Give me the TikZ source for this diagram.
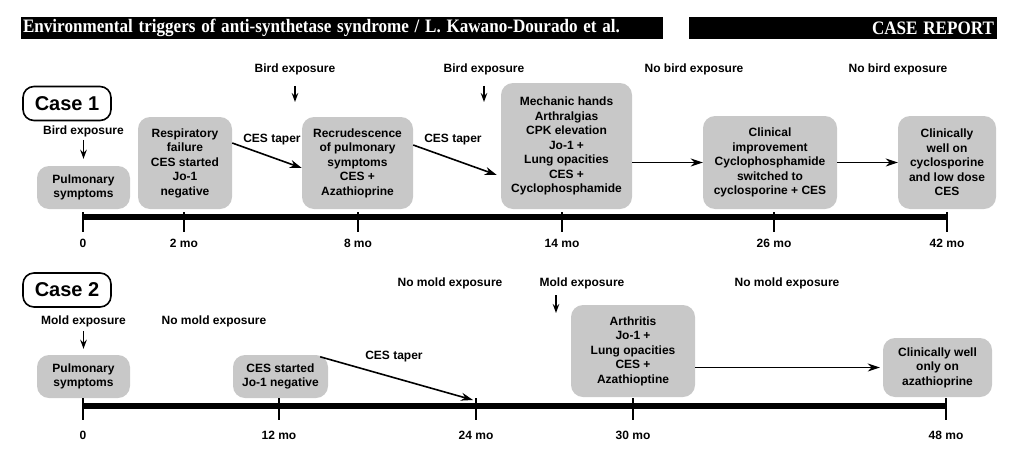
\documentclass[tikz,border=0pt]{standalone}
\usepackage{fontspec}
\setmainfont{Liberation Sans}
\newfontfamily\headfont{Liberation Serif}
\usetikzlibrary{arrows.meta}
\definecolor{boxgray}{RGB}{200,200,200}
\tikzstyle{sblock}   = [fill=boxgray,rounded corners=12pt,align=center,inner sep=0pt,font=\bfseries\fontsize{12}{14.5}\selectfont]
\tikzstyle{cblock}   = [draw,fill=white,line width=1.6pt,rounded corners=11pt,minimum width=88pt,minimum height=34pt,inner sep=0pt,font=\bfseries\fontsize{20}{24}\selectfont]
\tikzstyle{lbl}      = [inner sep=0pt,font=\bfseries\fontsize{12}{14.5}\selectfont]
\tikzstyle{hbar}     = [fill=black,text=white,minimum height=22pt,inner sep=0pt,font=\headfont\bfseries\fontsize{19}{22}\selectfont]
\tikzstyle{arr}      = [line width=1.6pt,-{Stealth[length=12pt,width=8pt]}]
\tikzstyle{darr}     = [line width=1.4pt,-{Stealth[length=9pt,width=6.5pt]}]
\tikzstyle{tline}    = [line width=6pt]
\tikzstyle{tickline} = [line width=2pt]
\begin{document}
\begin{tikzpicture}[x=1pt,y=-1pt]
			\useasboundingbox (0,0) rectangle (1024,450);
			\node [hbar,minimum width=642pt,text width=638pt,align=left](head l) at (342,28){\scalebox{0.9}[1]{Environmental triggers of anti-synthetase syndrome / L. Kawano-Dourado et al.}};
			\node [hbar,minimum width=308pt,text width=302pt,align=right](head r) at (843,28){\scalebox{0.9}[1]{CASE REPORT}};
			
			\node [cblock](case 1) at (67,103.5){Case 1};
			\node [lbl](bird 1) at (83.5,131){Bird exposure};
			\node [lbl](bird 2) at (295,69){Bird exposure};
			\node [lbl](bird 3) at (484,69){Bird exposure};
			\node [lbl](nobird 1) at (694,69){No bird exposure};
			\node [lbl](nobird 2) at (898,69){No bird exposure};
			\coordinate (bird 2 end) at (295,102);
			\coordinate (bird 3 end) at (484,102);
			
			\node [sblock,minimum width=93pt,minimum height=43pt](sym 1) at (83.5,187.5){Pulmonary\\symptoms};
			\node [sblock,minimum width=94pt,minimum height=92pt](resp 1) at (185,163){Respiratory\\failure\\CES started\\Jo-1\\negative};
			\node [sblock,minimum width=111pt,minimum height=92pt](recr 1) at (357.5,163){Recrudescence\\of pulmonary\\symptoms\\CES +\\Azathioprine};
			\node [sblock,minimum width=131pt,minimum height=126pt](mech 1) at (566.5,146){Mechanic hands\\Arthralgias\\CPK elevation\\Jo-1 +\\Lung opacities\\CES +\\Cyclophosphamide};
			\node [sblock,minimum width=134pt,minimum height=93pt](clin 1) at (770,162.5){Clinical\\improvement\\Cyclophosphamide\\switched to\\cyclosporine + CES};
			\node [sblock,minimum width=98pt,minimum height=93pt](well 1) at (947,162.5){Clinically\\well on\\cyclosporine\\and low dose\\CES};
			\node [lbl](taper 1) at (272,140){CES taper};
			\node [lbl](taper 2) at (453,140){CES taper};
			
			\draw [darr,shorten <=3pt,shorten >=7pt](bird 1) -- (bird 1 |- sym 1.north);
			\draw [darr,shorten <=11pt](bird 2) -- (bird 2 end);
			\draw [darr,shorten <=11pt](bird 3) -- (bird 3 end);
			\draw [arr]([yshift=20pt]resp 1.east) -- ([yshift=-5pt]recr 1.west);
			\draw [arr]([yshift=18pt]recr 1.east) -- ([xshift=-4pt,yshift=-29pt]mech 1.west);
			\draw [arr](mech 1.east |- clin 1.west) -- (clin 1.west);
			\draw [arr](clin 1.east) -- (well 1.west);
			
			\draw [tline](83,217) -- (947,217);
			\draw [tickline](83,212) -- (83,232);
			\draw [tickline](184,212) -- (184,232);
			\draw [tickline](358,212) -- (358,232);
			\draw [tickline](562,212) -- (562,232);
			\draw [tickline](774,212) -- (774,232);
			\draw [tickline](947,212) -- (947,232);
			\node [lbl](t1 0) at (83,243){0};
			\node [lbl](t1 2) at (184,243){2 mo};
			\node [lbl](t1 8) at (358,243){8 mo};
			\node [lbl](t1 14) at (562,243){14 mo};
			\node [lbl](t1 26) at (774,243){26 mo};
			\node [lbl](t1 42) at (947,243){42 mo};
			
			\node [cblock](case 2) at (67,290){Case 2};
			\node [lbl](mold 1) at (83.5,321){Mold exposure};
			\node [lbl](nomold 1) at (214,321){No mold exposure};
			\node [lbl](nomold 2) at (450,283){No mold exposure};
			\node [lbl](mold 2) at (582,283){Mold exposure};
			\node [lbl](nomold 3) at (787,283){No mold exposure};
			\coordinate (mold 2 top) at (556,295);
			\coordinate (mold 2 end) at (556,313);
			
			\node [sblock,minimum width=93pt,minimum height=43pt](sym 2) at (83.5,376.5){Pulmonary\\symptoms};
			\node [sblock,minimum width=95pt,minimum height=43pt](ces 2) at (280.5,376.5){CES started\\Jo-1 negative};
			\node [sblock,minimum width=124pt,minimum height=92pt](arth 2) at (633,351){Arthritis\\Jo-1 +\\Lung opacities\\CES +\\Azathioptine};
			\node [sblock,minimum width=109pt,minimum height=59pt](well 2) at (937.5,367.5){Clinically well\\only on\\azathioprine};
			\node [lbl](taper 3) at (394,357){CES taper};
			\coordinate (taper 3 end) at (473,400);
			
			\draw [darr,shorten <=4pt,shorten >=6pt](mold 1) -- (mold 1 |- sym 2.north);
			\draw [darr](mold 2 top) -- (mold 2 end);
			\draw [arr]([xshift=-8pt,yshift=-2pt]ces 2.north east) -- (taper 3 end);
			\draw [arr](arth 2.east |- well 2.west) -- ([xshift=-3pt]well 2.west);
			
			\draw [tline](83,406) -- (946,406);
			\draw [tickline](83,398) -- (83,420);
			\draw [tickline](279,398) -- (279,420);
			\draw [tickline](476,398) -- (476,420);
			\draw [tickline](633,398) -- (633,420);
			\draw [tickline](946,398) -- (946,420);
			\node [lbl](t2 0) at (83,435){0};
			\node [lbl](t2 12) at (279,435){12 mo};
			\node [lbl](t2 24) at (476,435){24 mo};
			\node [lbl](t2 30) at (633,435){30 mo};
			\node [lbl](t2 48) at (946,435){48 mo};
\end{tikzpicture}
\end{document}
